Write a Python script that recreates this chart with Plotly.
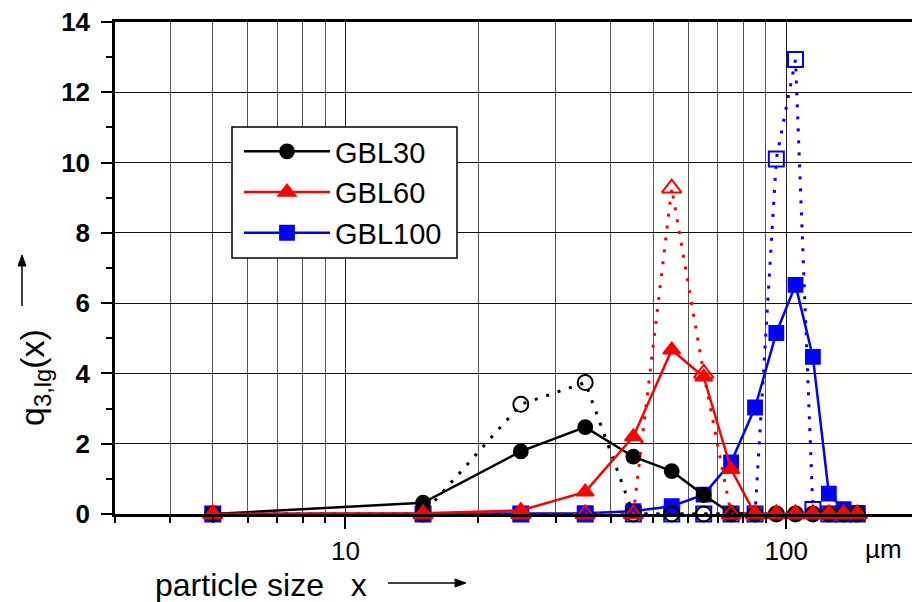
import math
import plotly.graph_objects as go

# ---- data ----
x_size = [5, 15, 25, 35, 45, 55, 65, 75, 85, 95, 105, 115, 125, 135, 145]

gbl30_solid = [0, 0.32, 1.78, 2.47, 1.63, 1.22, 0.54, 0.02, 0, 0, 0, 0, 0, 0, 0]
gbl30_dot = [0, 0, 3.12, 3.74, 0, 0, 0, 0, 0, 0, 0, 0, 0, 0, 0]

gbl60_solid = [0, 0.02, 0.1, 0.63, 2.2, 4.67, 3.9, 1.27, 0, 0, 0, 0, 0, 0, 0]
gbl60_dot = [0, 0, 0, 0, 0, 9.27, 4.0, 0, 0, 0, 0, 0, 0, 0, 0]

gbl100_solid = [0, 0, 0, 0.02, 0.08, 0.22, 0.55, 1.47, 3.03, 5.15, 6.52, 4.47, 0.58, 0.14, 0.03]
gbl100_dot = [0, 0, 0, 0, 0, 0, 0, 0, 0, 10.1, 12.93, 0.13, 0, 0, 0]

series_names = ["GBL30", "GBL60", "GBL100"]

x_major_ticks = [10, 100]
x_major_labels = ["10", "100"]
x_minor_ticks = [3, 4, 5, 6, 7, 8, 9, 20, 30, 40, 50, 60, 70, 80, 90]
y_major_ticks = [0, 2, 4, 6, 8, 10, 12, 14]
y_minor_ticks = [1, 3, 5, 7, 9, 11, 13]

# ---- styling ----
FONT = "Liberation Sans, Arial, sans-serif"
W, H = 912, 602
ML, MR, MT, MB = 115, 0, 22, 88
DOT = "3px,9px"

fig = go.Figure()


def add(yvals, name, color, symbol, dash, show, rank, size):
    is_open = symbol.endswith("-open")
    fig.add_trace(go.Scatter(
        x=x_size, y=yvals, name=name, mode="lines+markers",
        line=dict(color=color, width=2.5 if dash == "solid" else 3, dash=dash),
        marker=dict(symbol=symbol, size=size, color=color,
                    line=dict(color=color, width=2 if is_open else 1.8)),
        showlegend=show, legendrank=rank, cliponaxis=False,
    ))


add(gbl100_solid, series_names[2], "#0000ff", "square", "solid", True, 3, 14)
add(gbl100_dot, "GBL100 dot", "#0000ff", "square-open", DOT, False, 6, 15)
add(gbl30_solid, series_names[0], "#000000", "circle", "solid", True, 1, 14)
add(gbl30_dot, "GBL30 dot", "#000000", "circle-open", DOT, False, 4, 15)
add(gbl60_solid, series_names[1], "#ff0000", "triangle-up", "solid", True, 2, 15)
add(gbl60_dot, "GBL60 dot", "#ff0000", "triangle-up-open", DOT, False, 5, 17)

pw = W - ML - MR
ph = H - MT - MB


def px(xp):
    return (xp - ML) / pw


def py(yp):
    return (H - MB - yp) / ph


# arrows as shapes (line + filled head), positions in page pixels
def arrow_shapes(x0, y0, x1, y1, head_len=11, head_w=4):
    dx, dy = x1 - x0, y1 - y0
    L = math.hypot(dx, dy)
    ux, uy = dx / L, dy / L
    bx, by = x1 - ux * head_len, y1 - uy * head_len
    nx, ny = -uy, ux
    line = dict(type="line", xref="paper", yref="paper",
                x0=px(x0), y0=py(y0), x1=px(bx), y1=py(by),
                line=dict(color="black", width=1.5))
    pts = [(x1, y1), (bx + nx * head_w, by + ny * head_w), (bx - nx * head_w, by - ny * head_w)]
    path = "M " + " L ".join(f"{px(a):.5f},{py(b):.5f}" for a, b in pts) + " Z"
    head = dict(type="path", xref="paper", yref="paper", path=path,
                fillcolor="black", line=dict(color="black", width=1))
    return [line, head]


# legend frame drawn as a box behind the (transparent) legend
legend_box = dict(type="rect", xref="paper", yref="paper", layer="above",
                  x0=px(232), x1=px(457), y0=py(258), y1=py(127),
                  fillcolor="white", line=dict(color="black", width=1.5))

shapes = [legend_box] + arrow_shapes(22, 306, 22, 255) + arrow_shapes(388, 583, 466, 583)

fig.update_layout(
    width=W, height=H,
    margin=dict(l=ML, r=MR, t=MT, b=MB, pad=0),
    paper_bgcolor="white", plot_bgcolor="white",
    font=dict(family=FONT, size=26, color="black"),
    showlegend=True,
    legend=dict(
        x=px(239), y=py(126), xanchor="left", yanchor="top",
        borderwidth=0, bgcolor="rgba(0,0,0,0)",
        font=dict(family=FONT, size=29, color="black"),
        itemwidth=86, traceorder="normal",
    ),
    xaxis=dict(
        type="log",
        range=[math.log10(3), math.log10(193)],
        tickmode="array", tickvals=x_major_ticks, ticktext=x_major_labels,
        ticks="outside", ticklen=12, tickwidth=2, tickcolor="black",
        tickfont=dict(family=FONT, size=26),
        showline=True, linewidth=2.5, linecolor="black", mirror=True,
        showgrid=True, gridcolor="#222222", gridwidth=1,
        zeroline=False,
        minor=dict(tickmode="array", tickvals=x_minor_ticks, ticks="outside",
                   ticklen=6, tickwidth=1.5, tickcolor="black",
                   showgrid=True, gridcolor="#555555", gridwidth=1),
    ),
    yaxis=dict(
        range=[0, 14],
        tickmode="array", tickvals=y_major_ticks,
        ticks="outside", ticklen=11, tickwidth=2, tickcolor="black",
        tickfont=dict(family=FONT, size=26, weight="bold"),
        ticklabelstandoff=6,
        showline=True, linewidth=2.5, linecolor="black", mirror=False,
        showgrid=True, gridcolor="#111111", gridwidth=1,
        zeroline=False,
        minor=dict(tickmode="array", tickvals=y_minor_ticks, ticks="outside",
                   ticklen=6, tickwidth=1.5, tickcolor="black", showgrid=False),
    ),
    shapes=shapes,
    annotations=[
        dict(text="q<sub>3,lg</sub>(x)", textangle=-90, xref="paper", yref="paper",
             x=px(34), y=py(378), xanchor="center", yanchor="middle",
             showarrow=False, font=dict(family=FONT, size=34)),
        dict(text="particle size   x", xref="paper", yref="paper",
             x=px(153), y=py(585), xanchor="left", yanchor="middle",
             showarrow=False, font=dict(family=FONT, size=32)),
        dict(text="µm", xref="paper", yref="paper", x=px(883), y=py(549),
             xanchor="center", yanchor="middle", showarrow=False,
             font=dict(family=FONT, size=26)),
    ],
)

fig.write_html("out.html", config={"displayModeBar": False},
               post_script="document.body.style.margin='0';document.body.style.overflow='hidden';")
